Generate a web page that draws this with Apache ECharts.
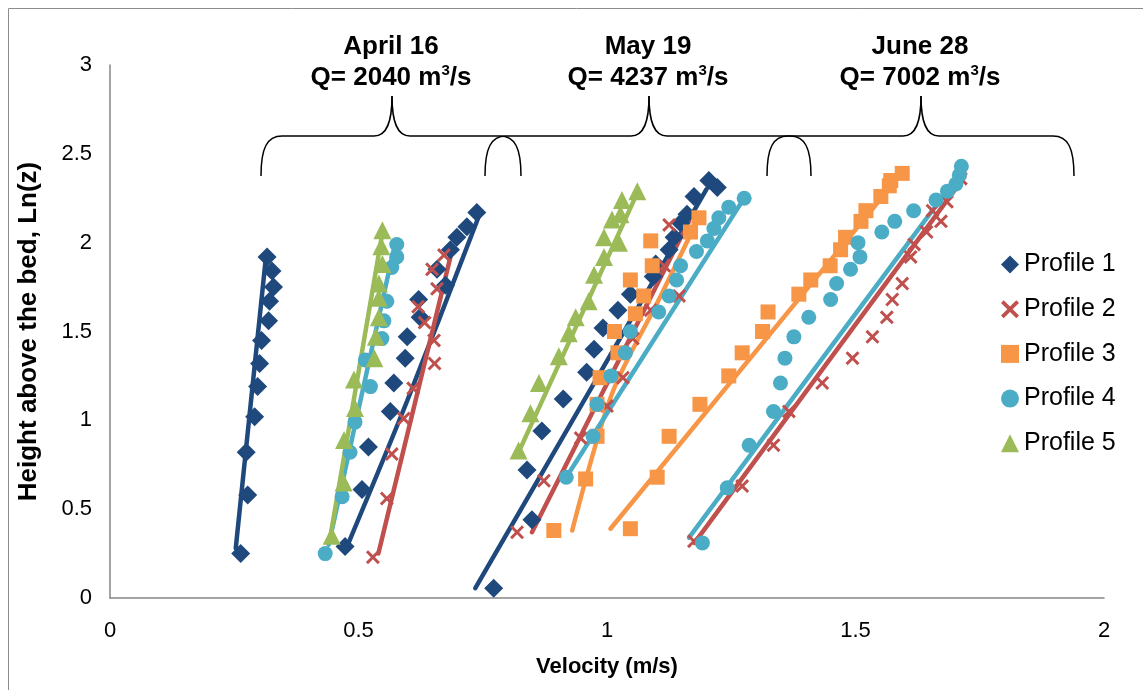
<!DOCTYPE html>
<html>
<head>
<meta charset="utf-8">
<script src="https://cdn.jsdelivr.net/npm/echarts@6/dist/echarts.min.js"></script>
<style>
  html, body { margin: 0; padding: 0; background: #fff; }
  #chart { width: 1143px; height: 690px; }
</style>
</head>
<body>
<div id="chart"></div>
<script>
// Velocity profiles: [velocity (m/s), Ln(z)]
// ---- April 16 ----
const apr16_p1a = [[0.263,0.25],[0.277,0.58],[0.274,0.82],[0.291,1.02],[0.297,1.19],[0.301,1.32],[0.305,1.45],[0.319,1.56],[0.321,1.67],[0.329,1.75],[0.326,1.84],[0.316,1.92]];
const apr16_p1a_fit = [[0.253,0.28],[0.313,1.90]];
const apr16_p1b = [[0.473,0.29],[0.507,0.61],[0.520,0.85],[0.564,1.05],[0.571,1.21],[0.594,1.35],[0.598,1.47],[0.624,1.58],[0.621,1.68],[0.675,1.76],[0.658,1.85],[0.685,1.96],[0.698,2.03],[0.718,2.09],[0.738,2.17]];
const apr16_p1b_fit = [[0.480,0.31],[0.598,1.11],[0.745,2.17]];
const apr16_p2 = [[0.529,0.23],[0.557,0.56],[0.567,0.81],[0.591,1.01],[0.610,1.18],[0.653,1.32],[0.652,1.45],[0.633,1.55],[0.620,1.64],[0.658,1.74],[0.648,1.85],[0.672,1.93]];
const apr16_p2_fit = [[0.540,0.25],[0.685,1.92]];
const apr16_p4 = [[0.433,0.25],[0.467,0.57],[0.483,0.82],[0.493,0.99],[0.524,1.19],[0.514,1.34],[0.547,1.46],[0.551,1.56],[0.557,1.67],[0.567,1.86],[0.577,1.92],[0.577,1.99]];
const apr16_p4_fit = [[0.440,0.30],[0.570,1.95]];
const apr16_p5 = [[0.446,0.35],[0.470,0.65],[0.471,0.89],[0.493,1.07],[0.491,1.23],[0.532,1.35],[0.535,1.47],[0.541,1.58],[0.541,1.69],[0.541,1.77],[0.548,1.88],[0.546,1.98],[0.548,2.07]];
const apr16_p5_fit = [[0.443,0.34],[0.549,2.07]];

// ---- May 19 ----
const may19_p1 = [[0.772,0.055],[0.849,0.44],[0.839,0.72],[0.869,0.94],[0.912,1.12],[0.959,1.27],[0.974,1.40],[0.992,1.52],[1.022,1.62],[1.047,1.71],[1.093,1.81],[1.098,1.88],[1.125,1.96],[1.135,2.03],[1.148,2.11],[1.161,2.16],[1.175,2.26],[1.205,2.35],[1.222,2.31]];
const may19_p1_fit = [[0.735,0.055],[1.200,2.30]];
const may19_p2 = [[0.819,0.37],[0.873,0.66],[0.947,0.90],[1.000,1.08],[1.032,1.24],[1.052,1.46],[1.088,1.62],[1.145,1.70],[1.115,1.87],[1.125,2.10]];
const may19_p2_fit = [[0.849,0.37],[1.165,2.12]];
const may19_p3 = [[0.893,0.38],[0.957,0.67],[0.980,0.91],[0.980,1.09],[0.986,1.24],[1.022,1.38],[1.015,1.50],[1.057,1.60],[1.074,1.70],[1.047,1.79],[1.091,1.87],[1.088,2.01],[1.168,2.06],[1.185,2.14]];
const may19_p3_fit = [[0.930,0.38],[1.010,1.15],[1.108,1.70],[1.188,2.16]];
const may19_p4 = [[0.918,0.68],[0.972,0.91],[0.980,1.09],[1.008,1.25],[1.037,1.38],[1.047,1.50],[1.104,1.61],[1.125,1.70],[1.140,1.79],[1.148,1.87],[1.180,1.95],[1.202,2.01],[1.215,2.08],[1.225,2.14],[1.245,2.20],[1.276,2.25]];
const may19_p4_fit = [[0.918,0.68],[1.269,2.22]];
const may19_p5 = [[0.822,0.83],[0.846,1.04],[0.863,1.21],[0.903,1.36],[0.923,1.49],[0.937,1.58],[0.963,1.67],[0.974,1.82],[0.994,1.92],[1.024,2.00],[0.994,2.03],[1.010,2.13],[1.027,2.16],[1.030,2.24],[1.061,2.29]];
const may19_p5_fit = [[0.822,0.82],[1.061,2.28]];

// ---- June 28 ----
const jun28_p2 = [[1.175,0.32],[1.272,0.63],[1.335,0.86],[1.366,1.05],[1.433,1.21],[1.494,1.35],[1.534,1.47],[1.563,1.58],[1.574,1.68],[1.594,1.77],[1.611,1.92],[1.618,1.99],[1.643,2.06],[1.672,2.12],[1.655,2.18],[1.684,2.23],[1.712,2.36]];
const jun28_p2_fit = [[1.176,0.31],[1.719,2.37]];
const jun28_p3 = [[1.047,0.39],[1.101,0.68],[1.125,0.91],[1.187,1.09],[1.245,1.25],[1.272,1.38],[1.313,1.50],[1.324,1.61],[1.386,1.71],[1.410,1.79],[1.449,1.87],[1.470,1.96],[1.480,2.03],[1.511,2.12],[1.521,2.18],[1.551,2.26],[1.568,2.32],[1.571,2.35],[1.594,2.39]];
const jun28_p3_fit = [[1.007,0.39],[1.590,2.38]];
const jun28_p4 = [[1.192,0.31],[1.242,0.62],[1.286,0.86],[1.335,1.05],[1.349,1.21],[1.358,1.35],[1.376,1.47],[1.406,1.58],[1.450,1.68],[1.462,1.77],[1.490,1.85],[1.509,1.92],[1.505,2.00],[1.553,2.06],[1.579,2.12],[1.617,2.18],[1.662,2.24],[1.685,2.29],[1.702,2.33],[1.709,2.38],[1.713,2.43]];
const jun28_p4_fit = [[1.165,0.34],[1.705,2.37]];

// Axis ticks and labels
const xTicks = { min: 0, max: 2, step: 0.5 };
const yTicks = { min: 0, max: 3, step: 0.5 };
const profileNames = ['Profile 1', 'Profile 2', 'Profile 3', 'Profile 4', 'Profile 5'];
const surveys = [
  { date: 'April 16', q: '2040' },
  { date: 'May 19',   q: '4237' },
  { date: 'June 28',  q: '7002' }
];

// Styling per profile
const crossPath = 'path://M0,1.5 L1.5,0 L5,3.5 L8.5,0 L10,1.5 L6.5,5 L10,8.5 L8.5,10 L5,6.5 L1.5,10 L0,8.5 L3.5,5 Z';
const profileStyle = [
  { color: '#1F497D', symbol: 'diamond',  size: 19 },
  { color: '#C0504D', symbol: crossPath,  size: 14 },
  { color: '#F79646', symbol: 'rect',     size: 15 },
  { color: '#4BACC6', symbol: 'circle',   size: 15 },
  { color: '#9BBB59', symbol: 'triangle', size: 18 }
];

// [profile index, points, fitted line]
const sets = [
  [0, apr16_p1a, apr16_p1a_fit],
  [0, apr16_p1b, apr16_p1b_fit],
  [1, apr16_p2, apr16_p2_fit],
  [3, apr16_p4, apr16_p4_fit],
  [4, apr16_p5, apr16_p5_fit],
  [0, may19_p1, may19_p1_fit],
  [1, may19_p2, may19_p2_fit],
  [2, may19_p3, may19_p3_fit],
  [3, may19_p4, may19_p4_fit],
  [4, may19_p5, may19_p5_fit],
  [1, jun28_p2, jun28_p2_fit],
  [2, jun28_p3, jun28_p3_fit],
  [3, jun28_p4, jun28_p4_fit]
];

const series = [];
sets.forEach(([p, pts, fit]) => {
  const st = profileStyle[p];
  series.push({
    name: profileNames[p], type: 'scatter', data: pts,
    symbol: st.symbol, symbolSize: st.size,
    itemStyle: { color: st.color, opacity: 1 },
    z: 3, silent: true
  });
  series.push({
    name: profileNames[p], type: 'line', data: fit,
    showSymbol: false, smooth: fit.length > 2 ? 0.3 : false,
    lineStyle: { color: st.color, width: 4.5, cap: 'round' },
    itemStyle: { color: st.color },
    z: 2, silent: true
  });
});

// Curly braces grouping the three surveys (pixel layout of the annotation)
const braceSpans = [[261, 392, 521], [485, 649, 811], [767, 921, 1074]];
const braceStroke = { fill: null, stroke: '#000', lineWidth: 1.5 };
function bracePieces(x0, xm, x1) {
  const yb = 176, yh = 136, yt = 96;
  const curve = (a, b, c1, c2) => ({
    type: 'bezierCurve', silent: true, style: braceStroke,
    shape: { x1: a[0], y1: a[1], x2: b[0], y2: b[1], cpx1: c1[0], cpy1: c1[1], cpx2: c2[0], cpy2: c2[1] }
  });
  const seg = (a, b) => ({
    type: 'line', silent: true, style: braceStroke,
    shape: { x1: a[0], y1: a[1], x2: b[0], y2: b[1] }
  });
  return [
    curve([x0, yb], [x0 + 21, yh], [x0, yb - 28], [x0 + 6, yh]),
    seg([x0 + 21, yh], [xm - 18, yh]),
    curve([xm - 18, yh], [xm, yt], [xm - 5, yh], [xm, yh - 14]),
    curve([xm, yt], [xm + 18, yh], [xm, yh - 14], [xm + 5, yh]),
    seg([xm + 18, yh], [x1 - 21, yh]),
    curve([x1 - 21, yh], [x1, yb], [x1 - 6, yh], [x1, yb - 28])
  ];
}

const titleFont = 'bold 26px "Liberation Sans", Arial, sans-serif';
const graphics = [
  { type: 'rect', shape: { x: 8.5, y: 8.5, width: 1300, height: 800 },
    style: { fill: null, stroke: '#8c8c8c', lineWidth: 1 }, z: -10, silent: true }
];
braceSpans.forEach(([a, m, b], i) => {
  bracePieces(a, m, b).forEach(el => graphics.push(el));
  graphics.push({
    type: 'text', x: m - 1, y: 47, silent: true,
    style: { text: surveys[i].date, font: titleFont,
             fill: '#000', align: 'center', verticalAlign: 'middle' }
  });
  graphics.push({
    type: 'text', x: m - 1, y: 77, silent: true,
    style: {
      text: `{b|Q= ${surveys[i].q} m}{s|3}{b|/s}`,
      align: 'center', verticalAlign: 'middle', fill: '#000',
      rich: {
        b: { font: titleFont, fill: '#000', verticalAlign: 'bottom' },
        s: { font: 'bold 15px "Liberation Sans", Arial, sans-serif', fill: '#000', verticalAlign: 'bottom', padding: [0, 0, 12, 0] }
      }
    }
  });
});

const chart = echarts.init(document.getElementById('chart'), null, { renderer: 'canvas' });
chart.setOption({
  animation: false,
  backgroundColor: '#fff',
  textStyle: { fontFamily: '"Liberation Sans", Arial, sans-serif' },
  grid: { left: 110, right: 39, top: 65, bottom: 92 },
  legend: {
    orient: 'vertical', left: 996, top: 247,
    itemWidth: 18, itemHeight: 18, itemGap: 19.7,
    textStyle: { fontSize: 25, color: '#000', fontFamily: '"Liberation Sans", Arial, sans-serif' },
    data: profileNames.map((n, i) => ({ name: n, icon: profileStyle[i].symbol })),
    selectedMode: false
  },
  xAxis: {
    type: 'value', min: xTicks.min, max: xTicks.max, interval: xTicks.step,
    name: 'Velocity (m/s)', nameLocation: 'middle', nameGap: 58,
    nameTextStyle: { fontSize: 22, fontWeight: 'bold', color: '#000' },
    axisLine: { show: true, lineStyle: { color: '#868686', width: 1.5 } },
    axisTick: { show: false },
    splitLine: { show: false },
    axisLabel: { fontSize: 22, color: '#000', margin: 22 }
  },
  yAxis: {
    type: 'value', min: yTicks.min, max: yTicks.max, interval: yTicks.step,
    name: 'Height above the bed, Ln(z)', nameLocation: 'middle', nameGap: 68,
    nameTextStyle: { fontSize: 26, fontWeight: 'bold', color: '#000' },
    axisLine: { show: true, lineStyle: { color: '#868686', width: 1.5 } },
    axisTick: { show: false },
    splitLine: { show: false },
    axisLabel: { fontSize: 22, color: '#000', margin: 18 }
  },
  graphic: graphics,
  series: series
});
</script>
</body>
</html>
